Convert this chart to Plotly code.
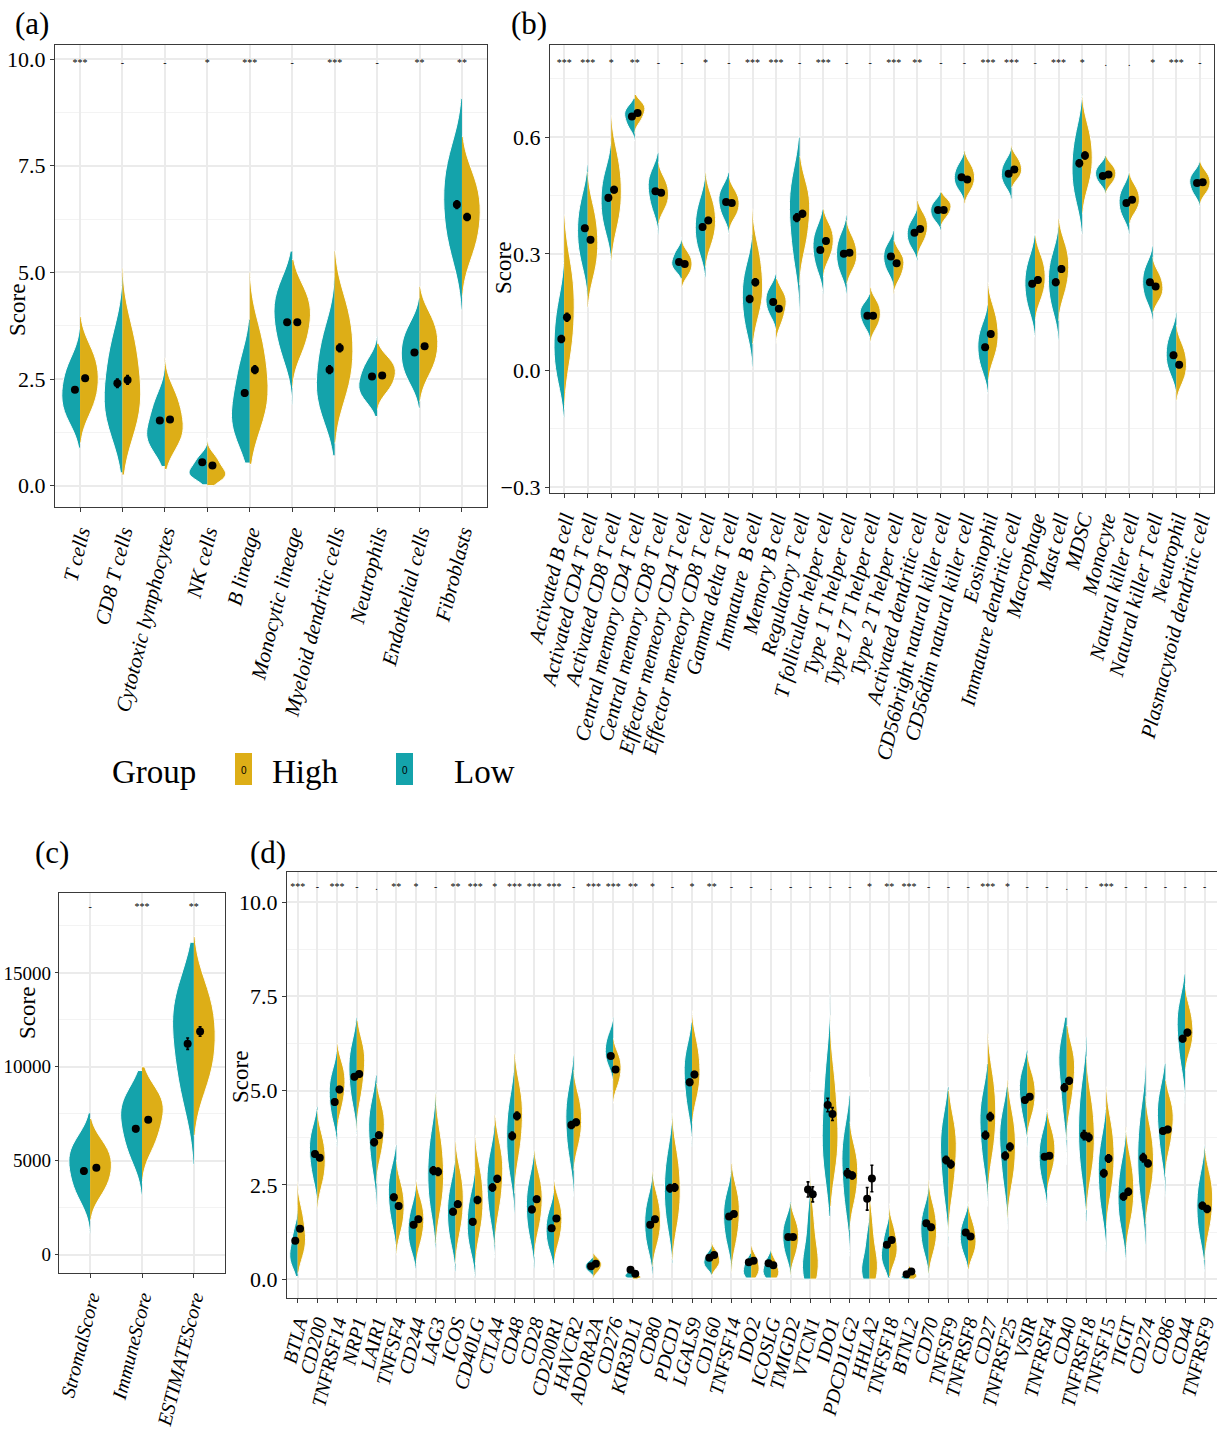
import plotly.graph_objects as go

# ---------------- data ----------------
# Each violin: span = [lowest, highest] visible score, q = quantiles (10/25/50/75/90 %)
# Dots: group mean with standard error.

a_cats = ['T cells', 'CD8 T cells', 'Cytotoxic lymphocytes', 'NK cells', 'B lineage',
          'Monocytic lineage', 'Myeloid dendritic cells', 'Neutrophils', 'Endothelial cells', 'Fibroblasts']
a_sig = ['***', '-', '-', '*', '***', '-', '***', '-', '**', '**']
a_low_span = [[0.88, 3.7], [0.3, 4.9], [0.45, 2.9], [0.02, 1.08], [0.53, 3.9], [1.9, 5.5],
              [0.7, 4.9], [1.62, 3.5], [1.82, 4.4], [4.12, 9.08]]
a_low_q = [[1.59, 1.89, 2.17, 2.51, 2.86], [1.34, 1.78, 2.2, 2.79, 3.42], [0.92, 1.11, 1.3, 1.65, 2.02],
           [0.2, 0.27, 0.34, 0.5, 0.67], [1.15, 1.45, 1.8, 2.3, 2.9], [3.1, 3.6, 4.0, 4.35, 4.7],
           [1.69, 2.1, 2.5, 3.03, 3.58], [2.05, 2.23, 2.4, 2.64, 2.9], [2.52, 2.82, 3.1, 3.39, 3.69],
           [5.54, 6.13, 6.7, 7.22, 7.77]]
a_high_span = [[1.0, 3.97], [0.25, 5.1], [0.38, 3.0], [0.0, 1.12], [0.5, 5.0], [2.3, 5.3],
               [1.0, 5.5], [1.78, 3.34], [1.98, 4.67], [4.44, 8.19]]
a_high_q = [[1.82, 2.17, 2.5, 2.82, 3.16], [1.38, 1.85, 2.3, 2.92, 3.56], [0.98, 1.23, 1.47, 1.81, 2.16],
            [0.16, 0.23, 0.3, 0.48, 0.67], [1.54, 1.98, 2.4, 2.97, 3.57], [3.22, 3.6, 3.97, 4.26, 4.57],
            [2.21, 2.72, 3.2, 3.71, 4.24], [2.25, 2.45, 2.64, 2.79, 2.96], [2.73, 3.04, 3.34, 3.63, 3.94],
            [5.52, 5.97, 6.4, 6.79, 7.21]]
a_low_mean = [2.25, 2.4, 1.53, 0.55, 2.17, 3.83, 2.72, 2.56, 3.12, 6.59]
a_high_mean = [2.52, 2.48, 1.55, 0.47, 2.72, 3.83, 3.23, 2.58, 3.27, 6.3]
a_low_se = [0.06, 0.1, 0.05, 0.03, 0.07, 0.06, 0.09, 0.04, 0.05, 0.09]
a_high_se = [0.06, 0.1, 0.05, 0.03, 0.09, 0.06, 0.09, 0.04, 0.05, 0.08]

b_cats = ['Activated B cell', 'Activated CD4 T cell', 'Activated CD8 T cell', 'Central memory CD4 T cell',
          'Central memory CD8 T cell', 'Effector memeory CD4 T cell', 'Effector memeory CD8 T cell',
          'Gamma delta T cell', 'Immature  B cell', 'Memory B cell', 'Regulatory T cell',
          'T follicular helper cell', 'Type 1 T helper cell', 'Type 17 T helper cell', 'Type 2 T helper cell',
          'Activated dendritic cell', 'CD56bright natural killer cell', 'CD56dim natural killer cell',
          'Eosinophil', 'Immature dendritic cell', 'Macrophage', 'Mast cell', 'MDSC', 'Monocyte',
          'Natural killer cell', 'Natural killer T cell', 'Neutrophil', 'Plasmacytoid dendritic cell']
b_sig = ['***', '***', '*', '**', '-', '-', '*', '-', '***', '***', '-', '***', '-', '-', '***', '**',
         '-', '-', '***', '***', '-', '***', '*', '.', '.', '*', '***', '-']
b_low_span = [[-0.12, 0.29], [0.19, 0.53], [0.283, 0.59], [0.59, 0.70], [0.35, 0.56], [0.236, 0.343],
              [0.24, 0.506], [0.351, 0.51], [0.009, 0.35], [0.103, 0.249], [0.146, 0.6], [0.197, 0.416],
              [0.197, 0.4], [0.077, 0.197], [0.214, 0.36], [0.283, 0.42], [0.36, 0.459], [0.437, 0.566],
              [-0.06, 0.171], [0.441, 0.574], [0.086, 0.351], [0.077, 0.369], [0.351, 0.711], [0.454, 0.553],
              [0.351, 0.51], [0.129, 0.321], [-0.056, 0.15], [0.42, 0.536]]
b_low_q = [[-0.016, 0.028, 0.07, 0.118, 0.169], [0.283, 0.323, 0.36, 0.397, 0.437],
           [0.368, 0.403, 0.437, 0.471, 0.506], [0.626, 0.641, 0.656, 0.666, 0.676],
           [0.416, 0.444, 0.47, 0.49, 0.51], [0.26, 0.27, 0.279, 0.293, 0.308],
           [0.311, 0.341, 0.369, 0.399, 0.431], [0.398, 0.418, 0.437, 0.453, 0.47],
           [0.108, 0.149, 0.189, 0.224, 0.261], [0.145, 0.163, 0.18, 0.195, 0.211],
           [0.291, 0.352, 0.41, 0.452, 0.496], [0.263, 0.291, 0.317, 0.339, 0.362],
           [0.254, 0.277, 0.3, 0.322, 0.345], [0.115, 0.131, 0.146, 0.157, 0.169],
           [0.256, 0.274, 0.291, 0.306, 0.322], [0.32, 0.336, 0.351, 0.366, 0.382],
           [0.388, 0.4, 0.411, 0.422, 0.433], [0.47, 0.484, 0.497, 0.512, 0.528],
           [0.006, 0.034, 0.06, 0.084, 0.11], [0.477, 0.492, 0.506, 0.521, 0.537],
           [0.161, 0.193, 0.223, 0.251, 0.281], [0.162, 0.197, 0.231, 0.261, 0.293],
           [0.446, 0.485, 0.523, 0.564, 0.608], [0.483, 0.495, 0.506, 0.516, 0.527],
           [0.396, 0.415, 0.433, 0.45, 0.468], [0.183, 0.205, 0.227, 0.248, 0.269],
           [-0.002, 0.021, 0.043, 0.067, 0.091], [0.455, 0.47, 0.484, 0.495, 0.507]]
b_high_span = [[-0.10, 0.40], [0.163, 0.51], [0.283, 0.656], [0.61, 0.71], [0.377, 0.536], [0.214, 0.334],
               [0.266, 0.51], [0.36, 0.497], [0.069, 0.416], [0.069, 0.236], [0.22, 0.55], [0.24, 0.416],
               [0.223, 0.386], [0.073, 0.214], [0.197, 0.334], [0.291, 0.437], [0.369, 0.459], [0.429, 0.566],
               [-0.026, 0.227], [0.471, 0.579], [0.129, 0.351], [0.129, 0.39], [0.403, 0.707], [0.454, 0.553],
               [0.377, 0.51], [0.15, 0.291], [-0.077, 0.116], [0.429, 0.54]]
b_high_q = [[0.043, 0.103, 0.16, 0.213, 0.268], [0.255, 0.293, 0.33, 0.37, 0.411],
            [0.382, 0.423, 0.463, 0.505, 0.55], [0.643, 0.657, 0.67, 0.679, 0.688],
            [0.419, 0.437, 0.454, 0.472, 0.491], [0.247, 0.261, 0.274, 0.287, 0.301],
            [0.332, 0.36, 0.386, 0.413, 0.442], [0.398, 0.414, 0.429, 0.444, 0.46],
            [0.154, 0.189, 0.223, 0.265, 0.31], [0.125, 0.149, 0.171, 0.185, 0.2],
            [0.324, 0.368, 0.41, 0.441, 0.473], [0.292, 0.313, 0.334, 0.352, 0.371],
            [0.265, 0.283, 0.3, 0.319, 0.339], [0.113, 0.13, 0.146, 0.161, 0.177],
            [0.239, 0.257, 0.274, 0.287, 0.301], [0.334, 0.352, 0.369, 0.384, 0.4],
            [0.397, 0.409, 0.42, 0.429, 0.438], [0.466, 0.482, 0.497, 0.512, 0.528],
            [0.04, 0.068, 0.094, 0.123, 0.154], [0.497, 0.508, 0.519, 0.532, 0.546],
            [0.19, 0.216, 0.24, 0.264, 0.29], [0.204, 0.236, 0.266, 0.293, 0.322],
            [0.483, 0.517, 0.549, 0.584, 0.62], [0.483, 0.495, 0.506, 0.516, 0.527],
            [0.412, 0.427, 0.441, 0.456, 0.472], [0.185, 0.2, 0.214, 0.231, 0.249],
            [-0.025, -0.004, 0.017, 0.039, 0.062], [0.459, 0.472, 0.484, 0.496, 0.509]]
b_low_mean = [0.081, 0.366, 0.444, 0.653, 0.461, 0.279, 0.369, 0.433, 0.184, 0.176, 0.393, 0.31, 0.3, 0.141,
              0.293, 0.354, 0.413, 0.497, 0.06, 0.506, 0.223, 0.227, 0.533, 0.5, 0.431, 0.227, 0.039, 0.482]
b_high_mean = [0.137, 0.336, 0.465, 0.662, 0.457, 0.274, 0.386, 0.431, 0.227, 0.159, 0.403, 0.333, 0.303, 0.141,
               0.276, 0.364, 0.413, 0.491, 0.094, 0.517, 0.233, 0.261, 0.553, 0.504, 0.439, 0.216, 0.015, 0.484]
b_low_se = [0.009, 0.007, 0.008, 0.005, 0.006, 0.004, 0.007, 0.005, 0.009, 0.005, 0.01, 0.006, 0.006, 0.004,
            0.005, 0.005, 0.004, 0.005, 0.007, 0.005, 0.007, 0.008, 0.009, 0.004, 0.005, 0.006, 0.007, 0.004]
b_high_se = [0.01, 0.007, 0.008, 0.005, 0.005, 0.004, 0.007, 0.005, 0.009, 0.005, 0.008, 0.006, 0.006, 0.004,
             0.005, 0.005, 0.004, 0.005, 0.007, 0.005, 0.007, 0.008, 0.009, 0.004, 0.005, 0.005, 0.007, 0.004]

c_cats = ['StromalScore', 'ImmuneScore', 'ESTIMATEScore']
c_sig = ['-', '***', '**']
c_low_span = [[1120, 7550], [3160, 9800], [4800, 16630]]
c_low_q = [[3200, 4000, 4800, 5400, 6000], [5300, 6300, 7200, 7900, 8500], [8500, 10300, 11900, 13100, 14200]]
c_high_span = [[1840, 7250], [3780, 10000], [6330, 16940]]
c_high_q = [[3410, 4070, 4700, 5260, 5850], [5850, 6720, 7550, 8090, 8650], [9245, 10464, 11630, 12800, 14020]]
c_low_mean = [4450, 6700, 11230]
c_high_mean = [4630, 7180, 11880]
c_low_se = [150, 150, 300]
c_high_se = [120, 130, 250]

d_cats = ['BTLA', 'CD200', 'TNFRSF14', 'NRP1', 'LAIR1', 'TNFSF4', 'CD244', 'LAG3', 'ICOS', 'CD40LG',
          'CTLA4', 'CD48', 'CD28', 'CD200R1', 'HAVCR2', 'ADORA2A', 'CD276', 'KIR3DL1', 'CD80', 'PDCD1',
          'LGALS9', 'CD160', 'TNFSF14', 'IDO2', 'ICOSLG', 'TMIGD2', 'VTCN1', 'IDO1', 'PDCD1LG2', 'HHLA2',
          'TNFSF18', 'BTNL2', 'CD70', 'TNFSF9', 'TNFRSF8', 'CD27', 'TNFRSF25', 'VSIR', 'TNFRSF4', 'CD40',
          'TNFRSF18', 'TNFSF15', 'TIGIT', 'CD274', 'CD86', 'CD44', 'TNFRSF9']
d_sig = ['***', '-', '***', '-', '.', '**', '*', '-', '**', '***', '*', '***', '***', '***', '-', '***',
         '***', '**', '*', '-', '*', '**', '-', '-', '.', '-', '-', '-', '-', '*', '**', '***', '-', '-', '-',
         '***', '*', '-', '-', '.', '-', '***', '-', '-', '-', '-', '-']
d_low_span = [[0.07, 1.97], [1.92, 4.57], [3.51, 6.07], [3.78, 6.95], [1.84, 5.41], [0.69, 3.56], [0.25, 2.5],
              [0.82, 4.97], [0.2, 3.29], [0.07, 2.98], [0.56, 4.09], [1.75, 5.81], [0.29, 3.42], [0.25, 2.37],
              [2.19, 5.94], [0.07, 0.6], [5.28, 6.95], [0.03, 0.29], [0.11, 2.81], [0.42, 4.4], [3.51, 6.82],
              [0.11, 0.91], [0.2, 2.9], [0.03, 0.69], [0.03, 0.78], [0.07, 2.06], [0.0, 5.5], [1.66, 7.57],
              [0.6, 4.88], [0.0, 3.07], [0.03, 1.88], [0.0, 0.25], [0.11, 2.45], [0.86, 5.1], [0.25, 2.01],
              [1.92, 5.72], [1.31, 5.1], [3.51, 6.07], [1.92, 4.48], [3.03, 6.95], [1.53, 6.43], [0.73, 4.57],
              [0.51, 3.95], [0.91, 5.72], [2.19, 5.72], [4.66, 8.1], [0.2, 3.56]]
d_low_q = [[0.41, 0.55, 0.69, 0.97, 1.27], [2.74, 3.09, 3.42, 3.67, 3.94], [4.29, 4.61, 4.92, 5.17, 5.44],
           [4.75, 5.15, 5.54, 5.85, 6.17], [3.0, 3.49, 3.95, 4.27, 4.61], [1.56, 1.93, 2.28, 2.56, 2.86],
           [0.83, 1.08, 1.31, 1.57, 1.85], [1.91, 2.37, 2.81, 3.29, 3.78], [1.05, 1.41, 1.75, 2.09, 2.44],
           [0.85, 1.17, 1.48, 1.81, 2.16], [1.65, 2.1, 2.54, 2.88, 3.24], [2.87, 3.33, 3.78, 4.23, 4.69],
           [1.19, 1.56, 1.92, 2.25, 2.6], [0.83, 1.08, 1.31, 1.54, 1.79], [3.31, 3.77, 4.22, 4.6, 4.99],
           [0.22, 0.28, 0.34, 0.4, 0.46], [5.71, 5.9, 6.07, 6.26, 6.47], [0.05, 0.07, 0.1, 0.15, 0.2],
           [0.86, 1.18, 1.48, 1.77, 2.08], [1.49, 1.94, 2.37, 2.82, 3.28], [4.58, 5.02, 5.45, 5.75, 6.07],
           [0.31, 0.39, 0.47, 0.57, 0.67], [1.0, 1.34, 1.66, 1.93, 2.22], [0.08, 0.15, 0.25, 0.38, 0.5],
           [0.08, 0.15, 0.25, 0.38, 0.52], [0.65, 0.9, 1.13, 1.33, 1.55], [0.08, 0.2, 0.4, 0.8, 1.6],
           [2.92, 3.45, 3.95, 4.75, 5.58], [1.96, 2.53, 3.07, 3.47, 3.88], [0.06, 0.15, 0.3, 0.6, 1.1],
           [0.39, 0.54, 0.69, 0.95, 1.23], [0.02, 0.04, 0.06, 0.1, 0.15], [0.77, 1.05, 1.31, 1.56, 1.82],
           [2.27, 2.86, 3.42, 3.79, 4.18], [0.73, 0.94, 1.13, 1.32, 1.53], [3.13, 3.64, 4.13, 4.48, 4.85],
           [2.62, 3.17, 3.69, 4.0, 4.32], [4.33, 4.68, 5.01, 5.24, 5.49], [2.65, 2.96, 3.25, 3.52, 3.8],
           [4.51, 5.13, 5.72, 5.99, 6.27], [2.86, 3.42, 3.95, 4.5, 5.07], [1.87, 2.35, 2.81, 3.2, 3.6],
           [1.43, 1.82, 2.19, 2.58, 2.98], [2.2, 2.74, 3.25, 3.79, 4.36], [3.36, 3.84, 4.31, 4.62, 4.94],
           [5.78, 6.24, 6.69, 7.0, 7.32], [1.15, 1.54, 1.92, 2.28, 2.66]]
d_high_span = [[0.16, 2.59], [1.88, 4.48], [3.87, 6.25], [3.95, 6.87], [2.54, 5.19], [0.64, 3.16], [0.38, 2.63],
               [0.95, 4.92], [0.42, 3.65], [0.38, 3.82], [0.91, 4.35], [2.28, 5.98], [0.6, 3.42], [0.38, 2.63],
               [2.89, 5.54], [0.03, 0.69], [4.66, 6.38], [0.0, 0.16], [0.34, 2.85], [0.51, 4.4], [4.13, 7.13],
               [0.11, 1.0], [0.16, 3.07], [0.03, 0.91], [0.03, 0.78], [0.11, 2.01], [0.0, 4.92], [1.92, 7.0],
               [1.31, 4.17], [0.0, 5.37], [0.07, 2.01], [0.0, 0.42], [0.16, 2.63], [1.13, 5.01], [0.25, 2.06],
               [2.28, 6.51], [1.62, 5.28], [3.78, 5.98], [2.28, 4.53], [3.69, 6.73], [1.84, 5.9], [1.35, 5.1],
               [0.78, 4.04], [1.48, 4.84], [2.72, 5.28], [5.54, 7.84], [0.51, 3.47]]
d_high_q = [[0.69, 0.92, 1.13, 1.45, 1.79], [2.58, 2.88, 3.16, 3.45, 3.75], [4.6, 4.9, 5.19, 5.42, 5.67],
            [4.92, 5.33, 5.72, 5.97, 6.24], [3.36, 3.71, 4.04, 4.29, 4.56], [1.34, 1.64, 1.92, 2.19, 2.48],
            [1.03, 1.31, 1.57, 1.8, 2.05], [1.97, 2.4, 2.81, 3.27, 3.76], [1.34, 1.73, 2.1, 2.44, 2.8],
            [1.33, 1.72, 2.1, 2.48, 2.87], [1.95, 2.39, 2.81, 3.15, 3.5], [3.4, 3.86, 4.31, 4.68, 5.06],
            [1.42, 1.77, 2.1, 2.39, 2.69], [1.03, 1.31, 1.57, 1.8, 2.05], [3.62, 3.93, 4.22, 4.51, 4.81],
            [0.22, 0.3, 0.38, 0.45, 0.52], [5.17, 5.39, 5.59, 5.76, 5.95], [0.02, 0.04, 0.06, 0.09, 0.12],
            [1.02, 1.3, 1.57, 1.85, 2.15], [1.53, 1.96, 2.37, 2.82, 3.28], [4.91, 5.23, 5.54, 5.89, 6.26],
            [0.33, 0.42, 0.51, 0.62, 0.73], [1.03, 1.4, 1.75, 2.04, 2.34], [0.1, 0.2, 0.32, 0.46, 0.6],
            [0.06, 0.12, 0.22, 0.35, 0.5], [0.67, 0.91, 1.13, 1.32, 1.53], [0.1, 0.25, 0.5, 0.95, 1.7],
            [3.04, 3.5, 3.95, 4.62, 5.32], [2.13, 2.48, 2.81, 3.11, 3.42], [0.08, 0.2, 0.4, 0.8, 1.5],
            [0.5, 0.69, 0.86, 1.11, 1.38], [0.03, 0.06, 0.1, 0.16, 0.24], [0.79, 1.06, 1.31, 1.6, 1.9],
            [2.39, 2.92, 3.42, 3.77, 4.14], [0.68, 0.87, 1.04, 1.26, 1.5], [3.45, 3.93, 4.4, 4.86, 5.35],
            [2.66, 3.09, 3.51, 3.9, 4.31], [4.41, 4.67, 4.92, 5.15, 5.4], [2.91, 3.17, 3.42, 3.66, 3.92],
            [4.71, 5.13, 5.54, 5.8, 6.08], [2.91, 3.35, 3.78, 4.25, 4.73], [2.39, 2.83, 3.25, 3.66, 4.08],
            [1.65, 2.02, 2.37, 2.74, 3.12], [2.4, 2.79, 3.16, 3.53, 3.92], [3.54, 3.89, 4.22, 4.45, 4.7],
            [6.12, 6.37, 6.6, 6.87, 7.16], [1.38, 1.75, 2.1, 2.4, 2.72]]
d_low_mean = [1.02, 3.32, 4.7, 5.37, 3.63, 2.17, 1.44, 2.88, 1.79, 1.52, 2.43, 3.8, 1.85, 1.35, 4.09, 0.34,
              5.92, 0.25, 1.44, 2.41, 5.22, 0.57, 1.66, 0.45, 0.42, 1.12, 2.38, 4.62, 2.81, 2.13, 0.91, 0.13,
              1.48, 3.16, 1.24, 3.82, 3.27, 4.75, 3.25, 5.08, 3.82, 2.81, 2.19, 3.22, 3.93, 6.38, 1.95]
d_high_mean = [1.34, 3.22, 5.03, 5.44, 3.82, 1.94, 1.59, 2.85, 1.99, 2.1, 2.66, 4.33, 2.12, 1.61, 4.16, 0.41,
               5.56, 0.14, 1.59, 2.43, 5.43, 0.64, 1.73, 0.49, 0.37, 1.12, 2.25, 4.38, 2.75, 2.67, 1.04, 0.2,
               1.38, 3.05, 1.13, 4.31, 3.51, 4.84, 3.27, 5.26, 3.76, 3.2, 2.32, 3.07, 3.97, 6.54, 1.86]
d_low_se = [0.06, 0.07, 0.08, 0.07, 0.09, 0.08, 0.07, 0.1, 0.08, 0.08, 0.09, 0.1, 0.08, 0.07, 0.09, 0.02,
            0.05, 0.02, 0.07, 0.1, 0.08, 0.03, 0.07, 0.03, 0.03, 0.05, 0.2, 0.18, 0.12, 0.3, 0.06, 0.02,
            0.07, 0.1, 0.06, 0.1, 0.1, 0.07, 0.07, 0.1, 0.12, 0.1, 0.09, 0.11, 0.08, 0.08, 0.09]
d_high_se = [0.07, 0.07, 0.08, 0.07, 0.08, 0.08, 0.07, 0.1, 0.08, 0.09, 0.09, 0.1, 0.08, 0.07, 0.08, 0.02,
             0.06, 0.02, 0.07, 0.1, 0.08, 0.03, 0.07, 0.03, 0.03, 0.05, 0.2, 0.17, 0.09, 0.35, 0.06, 0.02,
             0.07, 0.1, 0.06, 0.11, 0.1, 0.07, 0.07, 0.09, 0.11, 0.1, 0.09, 0.09, 0.08, 0.08, 0.09]

# ---------------- style ----------------
W, H = 1217, 1433
TEAL = '#14A3AB'
GOLD = '#DDAE17'
FONT = 'Liberation Serif'
GRID = '#EBEBEB'
MINOR = '#F3F3F3'
BORDER = '#3A3A3A'


def px_x(v):
    return v / W


def px_y(v):
    return 1 - v / H


fig = go.Figure()


def add_panel(k, cats, sig, sig_y, low_span, low_q, high_span, high_q,
              low_mean, high_mean, low_se, high_se, vwidth, dodge):
    xa = 'x' if k == 1 else f'x{k}'
    ya = 'y' if k == 1 else f'y{k}'
    for i in range(len(cats)):
        for side, span, q, col in (('negative', low_span[i], low_q[i], TEAL),
                                   ('positive', high_span[i], high_q[i], GOLD)):
            fig.add_trace(go.Violin(
                x=[i] * len(q), y=q, side=side, spanmode='manual', span=span,
                width=vwidth, scalemode='width', fillcolor=col, opacity=1,
                line=dict(color='white', width=1), points=False,
                box_visible=False, meanline_visible=False,
                hoverinfo='skip', showlegend=False, xaxis=xa, yaxis=ya))
    idx = list(range(len(cats)))
    for off, mean, se in ((-dodge, low_mean, low_se), (dodge, high_mean, high_se)):
        fig.add_trace(go.Scatter(
            x=[i + off for i in idx], y=mean, mode='markers',
            marker=dict(color='black', size=8, line=dict(width=0)),
            error_y=dict(type='data', array=se, color='black', thickness=1.6, width=1.5),
            hoverinfo='skip', showlegend=False, xaxis=xa, yaxis=ya))
    fig.add_trace(go.Scatter(
        x=idx, y=[sig_y] * len(cats), mode='text', text=sig,
        textfont=dict(family=FONT, size=10, color='black'),
        hoverinfo='skip', showlegend=False, xaxis=xa, yaxis=ya))


add_panel(1, a_cats, a_sig, 9.9, a_low_span, a_low_q, a_high_span, a_high_q,
          a_low_mean, a_high_mean, a_low_se, a_high_se, 0.86, 0.12)
add_panel(2, b_cats, b_sig, 0.79, b_low_span, b_low_q, b_high_span, b_high_q,
          b_low_mean, b_high_mean, b_low_se, b_high_se, 0.86, 0.12)
add_panel(3, c_cats, c_sig, 18470, c_low_span, c_low_q, c_high_span, c_high_q,
          c_low_mean, c_high_mean, c_low_se, c_high_se, 0.82, 0.12)
add_panel(4, d_cats, d_sig, 10.38, d_low_span, d_low_q, d_high_span, d_high_q,
          d_low_mean, d_high_mean, d_low_se, d_high_se, 0.8, 0.12)


def xaxis(cats, left, right, rng, size, anchor):
    return dict(domain=[px_x(left), px_x(right)], range=rng, anchor=anchor, automargin=False,
                tickmode='array', tickvals=list(range(len(cats))), ticktext=cats,
                ticklabeloverflow='allow',
                tickangle=-76, tickfont=dict(family=FONT, size=size, color='black', style='italic'),
                showgrid=True, gridcolor=GRID, gridwidth=1.5, zeroline=False,
                showline=True, mirror=True, linecolor=BORDER, linewidth=1.2,
                ticks='outside', ticklen=4, tickcolor=BORDER, tickwidth=1.2, fixedrange=True)


def yaxis(top, bottom, rng, vals, texts, minor_dtick, size, anchor, ticklen=4):
    return dict(domain=[px_y(bottom), px_y(top)], range=rng, anchor=anchor, automargin=False,
                tickmode='array', tickvals=vals, ticktext=texts, ticklabeloverflow='allow',
                tickfont=dict(family=FONT, size=size, color='black'),
                showgrid=True, gridcolor=GRID, gridwidth=1.5, zeroline=False,
                minor=dict(tick0=0, dtick=minor_dtick, showgrid=True, gridcolor=MINOR, gridwidth=1, ticks=''),
                showline=True, mirror=True, linecolor=BORDER, linewidth=1.2,
                ticks='outside', ticklen=ticklen, tickcolor=BORDER, tickwidth=1.2, fixedrange=True)


score_ticks = [0, 2.5, 5, 7.5, 10]
score_text = ['0.0', '2.5', '5.0', '7.5', '10.0']

fig.update_layout(
    width=W, height=H, margin=dict(l=0, r=0, t=0, b=0, autoexpand=False),
    paper_bgcolor='white', plot_bgcolor='white', violinmode='overlay',
    font=dict(family=FONT, color='black'),
    xaxis=xaxis(a_cats, 55, 487, [-0.59, 9.59], 21, 'y'),
    yaxis=yaxis(45, 507, [-0.5, 10.33], score_ticks, score_text, 1.25, 22, 'x'),
    xaxis2=xaxis(b_cats, 550, 1214, [-0.6, 27.6], 21, 'y2'),
    yaxis2=yaxis(45, 493, [-0.315, 0.837], [-0.3, 0, 0.3, 0.6], ['\u22120.3', '0.0', '0.3', '0.6'], 0.15, 22, 'x2'),
    xaxis3=xaxis(c_cats, 59, 225, [-0.6, 2.6], 20, 'y3'),
    yaxis3=yaxis(893, 1273, [-980, 19255], [0, 5000, 10000, 15000], ['0', '5000', '10000', '15000'],
                 2500, 19, 'x3', ticklen=3),
    xaxis4=xaxis(d_cats, 287, 1217, [-0.54, 46.62], 20, 'y4'),
    yaxis4=yaxis(872, 1298, [-0.5, 10.8], score_ticks, score_text, 1.25, 22, 'x4'),
)

ann = []
# panel letters
for label, x, y in (('(a)', 13, 24), ('(b)', 509, 24), ('(c)', 33, 852), ('(d)', 248, 852)):
    ann.append(dict(text=label, x=px_x(x), y=px_y(y), xref='paper', yref='paper',
                    xanchor='left', yanchor='middle', showarrow=False,
                    font=dict(family=FONT, size=31, color='black')))
# axis titles
for x, y in ((18, 310), (503, 268), (27, 1013), (240, 1077)):
    ann.append(dict(text='Score', x=px_x(x), y=px_y(y), xref='paper', yref='paper',
                    xanchor='center', yanchor='middle', textangle=-90, showarrow=False,
                    font=dict(family=FONT, size=23, color='black')))
# group legend
ann.append(dict(text='Group', x=px_x(154), y=px_y(772), xref='paper', yref='paper',
                xanchor='center', yanchor='middle', showarrow=False,
                font=dict(family=FONT, size=33, color='black')))
shapes = []
for name, col, bx, tx in (('High', GOLD, 235, 270), ('Low', TEAL, 396, 452)):
    shapes.append(dict(type='rect', xref='paper', yref='paper',
                       x0=px_x(bx), x1=px_x(bx + 17), y0=px_y(785), y1=px_y(753),
                       fillcolor=col, line=dict(width=0)))
    ann.append(dict(text='0', x=px_x(bx + 8.5), y=px_y(770), xref='paper', yref='paper',
                    xanchor='center', yanchor='middle', showarrow=False,
                    font=dict(family='Liberation Sans', size=10, color='black')))
    ann.append(dict(text=name, x=px_x(tx), y=px_y(772), xref='paper', yref='paper',
                    xanchor='left', yanchor='middle', showarrow=False,
                    font=dict(family=FONT, size=33, color='black')))

fig.update_layout(annotations=ann, shapes=shapes)
fig.write_html('out.html')
